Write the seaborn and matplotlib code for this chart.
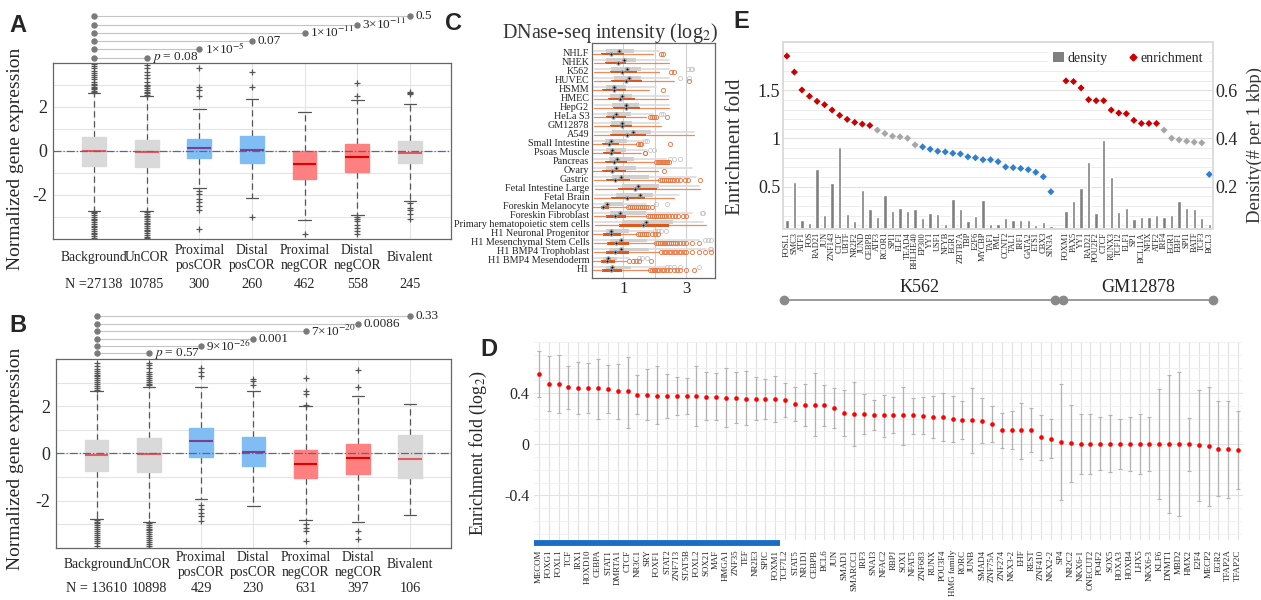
import matplotlib
matplotlib.use("Agg")
import matplotlib.pyplot as plt
import matplotlib.transforms as mtransforms
from matplotlib.lines import Line2D
from matplotlib.patches import Patch
from matplotlib.ticker import MultipleLocator
import numpy as np
import pandas as pd
import seaborn as sns

sns.set_theme(style="white")
plt.rcParams['font.family'] = ['Liberation Serif', 'DejaVu Serif']
plt.rcParams['mathtext.fontset'] = 'stix'

# ---------------- A / B : expression boxplots ----------------
groups = ['Background', 'UnCOR', 'Proximal\nposCOR', 'Distal\nposCOR',
          'Proximal\nnegCOR', 'Distal\nnegCOR', 'Bivalent']
group_kind = ['bg', 'bg', 'pos', 'pos', 'neg', 'neg', 'bg']

a_n = ['N =27138', '10785', '300', '260', '462', '558', '245']
a_med = [0.0, -0.05, 0.14, 0.05, -0.6, -0.26, -0.1]
a_q1 = [-0.68, -0.75, -0.32, -0.57, -1.3, -0.95, -0.57]
a_q3 = [0.62, 0.51, 0.53, 0.68, 0.0, 0.33, 0.47]
a_lo = [-2.72, -2.75, -1.69, -2.16, -3.14, -2.91, -2.28]
a_hi = [2.64, 2.5, 1.9, 2.34, 1.77, 2.32, 2.14]
a_out = [
    [2.68, 2.74, 2.8, 2.86, 2.92, 2.98, 3.05, 3.15, 3.25, 3.35, 3.45, 3.55, 3.65, 3.75, 3.85, 3.95,
     -2.76, -2.84, -2.92, -3.0, -3.08, -3.16, -3.24, -3.32, -3.4, -3.48, -3.56, -3.64, -3.72, -3.8, -3.88, -3.96],
    [2.55, 2.62, 2.7, 2.78, 2.86, 2.94, 3.02, 3.15, 3.3, 3.45, 3.6, 3.75, 3.9,
     -2.78, -2.86, -2.94, -3.02, -3.1, -3.18, -3.26, -3.34, -3.42, -3.5, -3.58, -3.66, -3.74, -3.82, -3.9, -3.98],
    [2.5, 2.75, 2.9, 3.75, -1.81, -1.96, -2.19, -2.34, -2.49, -2.67, -3.55],
    [2.9, 3.6, -3.0],
    [-3.8],
    [2.5, 3.1, -3.0, -3.08, -3.2, -3.35, -3.5, -3.65, -3.8],
    [2.6, 2.65, 2.7, -2.35, -2.6, -2.7, -2.85, -3.1],
]
a_p = [r'$p$ = 0.08', r'1×10$^{-5}$', '0.07', r'1×10$^{-11}$', r'3×10$^{-11}$', '0.5']

b_n = ['N = 13610', '10898', '429', '230', '631', '397', '106']
b_med = [-0.06, -0.03, 0.52, 0.07, -0.46, -0.2, -0.25]
b_q1 = [-0.73, -0.77, -0.17, -0.52, -1.05, -0.88, -1.05]
b_q3 = [0.59, 0.64, 1.09, 0.7, 0.14, 0.39, 0.8]
b_lo = [-2.76, -2.9, -1.93, -2.24, -2.8, -2.91, -2.62]
b_hi = [2.66, 2.83, 2.8, 2.66, 1.99, 2.45, 2.1]
b_out = [
    [2.7, 2.78, 2.86, 2.94, 3.02, 3.1, 3.18, 3.26, 3.34, 3.42, 3.5, 3.58, 3.7, 3.85,
     -2.8, -2.88, -2.96, -3.04, -3.12, -3.2, -3.28, -3.36, -3.44, -3.52, -3.6, -3.7, -3.8, -3.9],
    [2.88, 2.96, 3.04, 3.12, 3.2, 3.28, 3.36, 3.45, 3.6, 3.75, 3.85,
     -2.94, -3.02, -3.1, -3.18, -3.26, -3.34, -3.42, -3.5, -3.58, -3.66, -3.74, -3.82, -3.9, -3.98],
    [3.3, 3.45, 3.6, -2.2, -2.35, -2.5, -2.65, -2.85],
    [2.9, 3.05, 3.15],
    [2.05, 2.5, 2.65, 3.2, -3.0, -3.15, -3.3, -3.7],
    [2.8, 3.55, -3.3, -3.6],
    [],
]
b_p = [r'$p$ = 0.57', r'9×10$^{-26}$', '0.001', r'7×10$^{-20}$', '0.0086', '0.33']

# ---------------- C : DNase-seq intensity ----------------
c_cells = ['NHLF', 'NHEK', 'K562', 'HUVEC', 'HSMM', 'HMEC', 'HepG2', 'HeLa S3', 'GM12878', 'A549',
           'Small Intestine', 'Psoas Muscle', 'Pancreas', 'Ovary', 'Gastric', 'Fetal Intestine Large',
           'Fetal Brain', 'Foreskin Melanocyte', 'Foreskin Fibroblast', 'Primary hematopoietic stem cells',
           'H1 Neuronal Progenitor', 'H1 Mesenchymal Stem Cells', 'H1 BMP4 Trophoblast',
           'H1 BMP4 Mesendoderm', 'H1']
c_or_lo = [0.04, 0.05, 0.06, 0.05, 0.04, 0.05, 0.06, 0.05, 0.05, 0.06, 0.04, 0.04, 0.05,
           0.04, 0.05, 0.08, 0.06, 0.03, 0.05, 0.08, 0.04, 0.05, 0.05, 0.03, 0.04]
c_or_q1 = [0.30, 0.40, 0.56, 0.59, 0.32, 0.50, 0.66, 0.45, 0.56, 0.56, 0.32, 0.35, 0.40,
           0.32, 0.43, 0.82, 0.62, 0.27, 0.46, 0.86, 0.35, 0.48, 0.43, 0.29, 0.32]
c_or_med = [0.59, 0.82, 0.94, 1.09, 0.70, 0.88, 1.07, 0.66, 0.94, 1.12, 0.55, 0.61, 0.70,
            0.64, 0.73, 1.36, 1.12, 0.35, 0.72, 1.63, 0.59, 0.75, 0.72, 0.48, 0.59]
c_or_q3 = [1.02, 1.07, 1.42, 1.60, 1.09, 1.36, 1.52, 1.07, 1.26, 1.71, 0.86, 0.91, 1.12,
           1.09, 1.20, 2.06, 1.69, 0.53, 1.07, 2.44, 0.91, 1.18, 1.18, 0.72, 0.96]
c_or_hi = [1.93, 2.44, 2.14, 2.62, 1.82, 2.41, 2.46, 1.71, 2.19, 3.26, 1.39, 1.55, 1.93,
           2.09, 2.14, 3.44, 2.62, 1.12, 1.76, 3.64, 1.44, 2.03, 2.14, 1.07, 1.82]
c_or_out = [
    [2.19, 2.25], [], [2.53, 2.6], [3.08], [2.26], [], [], [1.84, 1.9, 1.97, 2.03, 2.39], [], [],
    [1.48, 1.52, 1.55, 2.48], [1.68, 1.7],
    [2.03, 2.1, 2.15, 2.2, 2.25, 2.3, 2.35, 2.4, 2.46],
    [2.28],
    [2.18, 2.24, 2.3, 2.36, 2.42, 2.48, 2.55, 2.62, 2.7, 2.8, 2.95, 3.05, 3.45],
    [], [],
    [1.15, 1.22, 1.28, 1.34, 1.4, 1.46, 1.52, 1.58, 1.65, 1.72, 1.8, 1.92],
    [1.8, 1.86, 1.92, 1.98, 2.04, 2.1, 2.16, 2.22, 2.28, 2.35, 2.45, 2.55, 2.65, 2.75, 2.9, 3.0],
    [],
    [1.48, 1.54, 1.6, 1.66, 1.72, 1.8, 1.9, 2.0, 2.1],
    [2.05, 2.1, 2.16, 2.22, 2.28, 2.34, 2.4, 2.46, 2.52, 2.58, 2.65, 2.72, 2.8, 2.9, 3.0, 3.2, 3.42],
    [2.2, 2.28, 2.36, 2.44, 2.52, 2.6, 2.68, 2.76, 2.84, 2.92, 3.0, 3.2, 3.4, 3.6, 3.8],
    [1.18, 1.3, 1.4, 1.5, 1.87],
    [1.84, 1.9, 1.96, 2.02, 2.08, 2.15, 2.22, 2.3, 2.4, 2.5, 2.6, 2.7, 2.8, 3.0, 3.26],
]
c_gr_lo = [0.06, 0.07, 0.08, 0.07, 0.06, 0.07, 0.08, 0.06, 0.07, 0.08, 0.05, 0.06, 0.07,
           0.06, 0.07, 0.1, 0.08, 0.05, 0.07, 0.1, 0.06, 0.07, 0.07, 0.05, 0.06]
c_gr_q1 = [0.43, 0.43, 0.62, 0.70, 0.43, 0.57, 0.64, 0.48, 0.61, 0.64, 0.40, 0.43, 0.53,
           0.43, 0.64, 0.96, 0.77, 0.37, 0.56, 0.96, 0.43, 0.57, 0.53, 0.35, 0.43]
c_gr_med = [0.86, 1.03, 1.12, 1.18, 0.70, 0.94, 1.07, 0.75, 0.96, 1.30, 0.59, 0.64, 0.80,
            0.75, 0.91, 1.47, 1.53, 0.48, 0.89, 1.71, 0.62, 0.91, 0.91, 0.51, 0.64]
c_gr_q3 = [1.34, 1.39, 1.55, 1.55, 1.07, 1.28, 1.50, 1.23, 1.28, 1.87, 1.12, 1.07, 1.34,
           1.39, 1.82, 2.14, 1.93, 1.02, 1.71, 2.57, 1.18, 1.76, 1.82, 0.80, 1.23]
c_gr_hi = [2.14, 2.46, 2.46, 2.46, 2.03, 2.46, 2.46, 1.93, 2.14, 3.26, 1.66, 1.76, 2.35,
           3.20, 3.30, 3.42, 2.78, 1.71, 3.20, 3.53, 1.93, 3.42, 3.64, 1.18, 2.35]
c_gr_out = [
    [], [], [3.05, 3.15, 3.2], [2.8, 3.1], [], [], [], [2.2, 2.25], [], [],
    [1.7, 1.75], [1.84, 1.97], [2.5, 2.6, 2.8], [], [], [], [], [2.03, 2.4], [3.5, 3.55], [],
    [2.0, 2.1, 2.2, 2.35], [3.6, 3.7, 3.8], [3.75, 3.8], [1.5, 1.6, 1.75], [2.4, 2.5, 2.6, 2.8, 3.4],
]

# ---------------- D : enrichment per TF ----------------
d_tf = ['MECOM', 'FOXG1', 'FOXL1', 'TCF', 'IRX1', 'HOXD10', 'CEBPA', 'STAT1', 'DMRTA1', 'CTCF',
        'NR3C1', 'SRY', 'FOXF1', 'STAT2', 'ZNF713', 'STAT5B', 'FOXL2', 'SOX21', 'MAF', 'HMGA1',
        'ZNF35', 'TEF', 'NR2E3', 'SPIC', 'FOXM1', 'TCF7L2', 'STAT5', 'NR1D1', 'CEBPB', 'BCL6',
        'JUN', 'SMAD1', 'SMARCC1', 'IRF3', 'SNAI3', 'NFAC2', 'RBPJ', 'SOX1', 'NFAT5', 'ZNF683',
        'RUNX', 'POU3F4', 'HMG family', 'RORC', 'JUNB', 'SMAD4', 'ZNF75A', 'ZNF274', 'NKX3-2', 'EHF',
        'REST', 'ZNF410', 'NKX2-2', 'SP4', 'NR2C2', 'NKX6-1', 'ONECUT2', 'PO4F2', 'SOX5', 'HOXA3',
        'HOXB4', 'LHX5', 'NKX6-3', 'KLF6', 'DNMT1', 'MBD2', 'HMX2', 'E2F4', 'MECP2', 'EGR2',
        'TFAP2A', 'TFAP2C']
d_val = [0.55, 0.475, 0.47, 0.446, 0.44, 0.436, 0.436, 0.43, 0.413, 0.413,
         0.387, 0.385, 0.38, 0.38, 0.38, 0.377, 0.377, 0.37, 0.366, 0.36,
         0.358, 0.356, 0.352, 0.35, 0.35, 0.348, 0.315, 0.31, 0.31, 0.305,
         0.284, 0.245, 0.237, 0.237, 0.225, 0.225, 0.225, 0.225, 0.225, 0.22,
         0.21, 0.21, 0.2, 0.186, 0.186, 0.18, 0.157, 0.11, 0.11, 0.108,
         0.11, 0.057, 0.041, 0.018, 0.01, 0.0, 0.0, 0.0, 0.0, 0.0,
         0.0, 0.0, 0.0, 0.0, 0.0, 0.0, 0.0, -0.008, -0.018, -0.034,
         -0.041, -0.049]
d_hi = [0.728, 0.694, 0.697, 0.614, 0.645, 0.632, 0.668, 0.617, 0.624, 0.686,
        0.54, 0.586, 0.609, 0.55, 0.524, 0.519, 0.614, 0.565, 0.557, 0.594,
        0.565, 0.573, 0.524, 0.508, 0.53, 0.48, 0.446, 0.475, 0.557, 0.467,
        0.439, 0.428, 0.488, 0.392, 0.348, 0.387, 0.366, 0.446, 0.364, 0.369,
        0.377, 0.397, 0.377, 0.338, 0.44, 0.359, 0.302, 0.248, 0.263, 0.322,
        0.284, 0.23, 0.199, 0.475, 0.307, 0.237, 0.237, 0.209, 0.225, 0.201,
        0.214, 0.237, 0.214, 0.434, 0.544, 0.568, 0.206, 0.428, 0.444, 0.338,
        0.341, 0.261]
d_lo = [0.366, 0.258, 0.245, 0.279, 0.237, 0.245, 0.2, 0.245, 0.2, 0.13,
        0.24, 0.186, 0.16, 0.206, 0.23, 0.24, 0.139, 0.186, 0.186, 0.137,
        0.165, 0.15, 0.188, 0.2, 0.17, 0.214, 0.183, 0.145, 0.065, 0.14,
        0.126, 0.065, -0.013, 0.08, 0.108, 0.06, 0.085, -0.003, 0.08, 0.077,
        0.046, 0.026, 0.02, 0.039, -0.072, 0.008, 0.018, -0.026, -0.041, -0.114,
        -0.06, -0.126, -0.11, -0.436, -0.294, -0.232, -0.232, -0.204, -0.219, -0.196,
        -0.209, -0.235, -0.209, -0.428, -0.537, -0.56, -0.206, -0.441, -0.483, -0.403,
        -0.421, -0.351]
d_marked = 25  # first TFs underlined by the blue bar (MECOM ... FOXM1)

# ---------------- E : K562 / GM12878 enrichment and density ----------------
e_cell = ['K562'] * 36 + ['GM12878'] * 20
e_tf = ['FOSL1', 'SMC3', 'ATF1', 'FOS', 'RAD21', 'JUN', 'ZNF143', 'CTCF', 'UBTF', 'NR2F2',
        'JUND', 'CEBPB', 'ATF3', 'RCOR1', 'SPI1', 'ELF1', 'TEAD4', 'BHLHE40', 'EP300', 'YY1',
        'USF1', 'NFYB', 'EGR1', 'ZBTB7A', 'TBP', 'E2F6', 'MYCBP', 'TAF1', 'PML', 'CCNT2',
        'TAL1', 'IRF1', 'GATA2', 'ETS1', 'CBX3', 'SIN3A',
        'FOXM1', 'PAX5', 'YY1', 'RAD21', 'POU2F2', 'CTCF', 'RUNX3', 'TCF12', 'ELF1', 'SP1',
        'BCL11A', 'NFIX', 'ATF2', 'IRF4', 'EGR1', 'EBF1', 'SPI1', 'BATF', 'TCF3', 'BCL3']
e_enrich = [1.854, 1.688, 1.503, 1.438, 1.385, 1.35, 1.295, 1.24, 1.198, 1.167,
            1.149, 1.135, 1.087, 1.052, 1.024, 1.017, 1.003, 0.934, 0.913, 0.889,
            0.868, 0.861, 0.847, 0.84, 0.81, 0.80, 0.78, 0.78, 0.76, 0.705,
            0.698, 0.69, 0.677, 0.65, 0.604, 0.448,
            1.597, 1.59, 1.524, 1.403, 1.392, 1.392, 1.295, 1.264, 1.257, 1.188,
            1.156, 1.156, 1.156, 1.087, 1.003, 0.986, 0.972, 0.962, 0.955, 0.628]
e_density = [0.064, 0.221, 0.061, 0.051, 0.272, 0.082, 0.214, 0.365, 0.085, 0.056,
             0.188, 0.106, 0.076, 0.164, 0.1, 0.113, 0.1, 0.106, 0.071, 0.09,
             0.085, 0.047, 0.149, 0.108, 0.056, 0.079, 0.144, 0.047, 0.044, 0.071,
             0.061, 0.061, 0.061, 0.043, 0.054, 0.039,
             0.099, 0.14, 0.193, 0.304, 0.09, 0.394, 0.242, 0.094, 0.111, 0.068,
             0.074, 0.074, 0.082, 0.076, 0.082, 0.14, 0.111, 0.106, 0.071, 0.046]
e_sig = ['up'] * 12 + ['ns'] * 6 + ['down'] * 18 + ['up'] * 13 + ['ns'] * 6 + ['down']

box_face = {'bg': '#d9d9d9', 'pos': '#80bdf5', 'neg': '#ff8080'}
median_col = {'bg': '#e8585e', 'pos': '#7d3f90', 'neg': '#e00000'}
e_pal = {'up': '#cc0000', 'ns': '#a6a6a6', 'down': '#2f7fd0'}


def draw_expression(ax, n_labels, med, q1, q3, lo, hi, outs, pvals, lvl_step, cat_y, n_y, lab_xy):
    stats = [dict(med=med[i], q1=q1[i], q3=q3[i], whislo=lo[i], whishi=hi[i], fliers=outs[i])
             for i in range(len(groups))]
    art = ax.bxp(stats, positions=range(len(groups)), widths=0.45, capwidths=0.24,
                 patch_artist=True, manage_ticks=False,
                 whiskerprops=dict(color='#555555', linestyle=(0, (5, 3)), linewidth=0.9),
                 capprops=dict(color='#555555', linewidth=0.9),
                 flierprops=dict(marker='+', markeredgecolor='#555555', markersize=5,
                                 markeredgewidth=0.9),
                 medianprops=dict(linewidth=1.5))
    for box, mline, kind in zip(art['boxes'], art['medians'], group_kind):
        box.set_facecolor(box_face[kind])
        box.set_edgecolor(box_face[kind])
        box.set_zorder(3)
        mline.set_color(median_col[kind])
        mline.set_zorder(4)
    ax.axhline(0, color='#5a6a80', ls='-.', lw=0.9, zorder=5)
    ax.set_xlim(-0.78, 6.78)
    ax.set_ylim(-4, 4)
    ax.set_xticks(range(len(groups)))
    ax.set_xticklabels([])
    ax.set_yticks([-3, -2, -1, 0, 1, 2, 3], ['', '-2', '', '0', '', '2', ''], fontsize=13)
    ax.tick_params(length=0, pad=4)
    ax.grid(True, color='#e4e4e4', lw=0.8)
    ax.set_axisbelow(True)
    for s in ax.spines.values():
        s.set_color('#666666')
        s.set_linewidth(0.9)
    ax.set_ylabel('Normalized gene expression', fontsize=14)
    ax.yaxis.set_label_coords(*lab_xy)

    trans = mtransforms.blended_transform_factory(ax.transData, ax.transAxes)
    for i, g in enumerate(groups):
        ax.text(i, cat_y, g, transform=trans, ha='center', va='center', fontsize=9.8,
                linespacing=1.15)
        ax.text(i, n_y, n_labels[i], transform=trans, ha='center', va='center', fontsize=10.3)
    for k, p in enumerate(pvals):
        y = 1.03 + lvl_step * k
        gx = k + 1
        ax.plot([0, gx], [y, y], color='#c4c4c4', lw=0.8, transform=trans, clip_on=False)
        ax.plot([0, gx], [y, y], 'o', color='#7a7a7a', ms=3.6, transform=trans, clip_on=False)
        ax.text(gx + 0.1, y, p, transform=trans, ha='left', va='center', fontsize=9.5)


fig = plt.figure(figsize=(12.61, 6.0), dpi=100)

ax_a = fig.add_axes([0.042, 0.602, 0.3156, 0.293])
draw_expression(ax_a, a_n, a_med, a_q1, a_q3, a_lo, a_hi, a_out, a_p, 0.047, -0.108, -0.26,
                (-0.072, 0.455))

ax_b = fig.add_axes([0.0444, 0.0867, 0.3132, 0.315])
draw_expression(ax_b, b_n, b_med, b_q1, b_q3, b_lo, b_hi, b_out, b_p, 0.039, -0.09, -0.215,
                (-0.082, 0.47))

# ---------------- C ----------------
ax_c = fig.add_axes([0.4695, 0.5367, 0.0975, 0.392])
rows = np.arange(len(c_cells))
gr_stats = [dict(med=c_gr_med[i], q1=c_gr_q1[i], q3=c_gr_q3[i], whislo=c_gr_lo[i],
                 whishi=c_gr_hi[i], fliers=c_gr_out[i]) for i in rows]
or_stats = [dict(med=c_or_med[i], q1=c_or_q1[i], q3=c_or_q3[i], whislo=c_or_lo[i],
                 whishi=c_or_hi[i], fliers=c_or_out[i]) for i in rows]
common = dict(patch_artist=True, manage_ticks=False, showcaps=False,
              orientation='horizontal')
ax_c.bxp(gr_stats, positions=rows - 0.17, widths=0.42,
         boxprops=dict(facecolor='#cfcfcf', edgecolor='none'),
         whiskerprops=dict(color='#dcdcdc', linewidth=1.2),
         medianprops=dict(linewidth=0),
         flierprops=dict(marker='o', markerfacecolor='none', markeredgecolor='#c8c8c8',
                         markersize=3, markeredgewidth=0.6), **common)
ax_c.bxp(or_stats, positions=rows + 0.14, widths=0.3,
         boxprops=dict(facecolor='#e0561c', edgecolor='none'),
         whiskerprops=dict(color='#f08a5c', linewidth=0.9),
         medianprops=dict(linewidth=0),
         flierprops=dict(marker='o', markerfacecolor='none', markeredgecolor='#e8703a',
                         markersize=3, markeredgewidth=0.6), **common)
ax_c.scatter(c_gr_med, rows - 0.17, s=7, facecolor='white', edgecolor='#777777', lw=0.4, zorder=5)
ax_c.scatter(c_gr_med, rows - 0.17, s=0.5, color='black', zorder=6)
ax_c.scatter(c_or_med, rows + 0.14, s=7, facecolor='white', edgecolor='#777777', lw=0.4, zorder=5)
ax_c.scatter(c_or_med, rows + 0.14, s=0.5, color='black', zorder=6)
ax_c.set_xlim(0, 3.92)
ax_c.set_ylim(len(c_cells) - 0.0, -1.1)
ax_c.set_yticks(rows, c_cells, fontsize=7.3)
ax_c.set_xticks([1, 2, 3], ['1', '', '3'], fontsize=12)
ax_c.tick_params(length=0, pad=2)
ax_c.grid(True, axis='x', color='#cfcfcf', lw=0.8)
ax_c.set_axisbelow(True)
for s in ax_c.spines.values():
    s.set_color('#666666')
    s.set_linewidth(0.9)
fig.text(610 / 1261, 1 - 33 / 600, r'DNase-seq intensity (log$_2$)', ha='center', va='center',
         fontsize=14.5, color='#333333')

# ---------------- D ----------------
ax_d = fig.add_axes([0.4235, 0.1, 0.5622, 0.33])
d_pos = np.arange(len(d_tf))
d_val_arr = np.array(d_val)
ax_d.errorbar(d_pos, d_val_arr, yerr=[d_val_arr - np.array(d_lo), np.array(d_hi) - d_val_arr],
              fmt='none', ecolor='#b3b3b3', elinewidth=0.9, capsize=1.5, capthick=0.8, zorder=2)
sns.scatterplot(x=d_pos, y=d_val, color='#ff0000', s=11, linewidth=0, ax=ax_d, zorder=3)
ax_d.set_xlim(-0.5, len(d_tf) - 0.5)
ax_d.set_ylim(-0.75, 0.8)
ax_d.set_xticks(d_pos, d_tf, rotation=90, fontsize=6.4)
ax_d.set_yticks([-0.4, 0, 0.4], ['-0.4', '0', '0.4'], fontsize=11.5)
ax_d.yaxis.set_minor_locator(MultipleLocator(0.1))
ax_d.tick_params(axis='both', which='both', length=0)
ax_d.tick_params(axis='x', pad=7)
ax_d.grid(True, which='major', color='#e2e2e2', lw=0.8)
ax_d.grid(True, which='minor', axis='y', color='#efefef', lw=0.6)
ax_d.set_axisbelow(True)
for s in ax_d.spines.values():
    s.set_visible(False)
ax_d.set_ylabel(r'Enrichment fold (log$_2$)', fontsize=13)
ax_d.yaxis.set_label_coords(-0.063, 0.44)
trans_d = mtransforms.blended_transform_factory(ax_d.transData, ax_d.transAxes)
ax_d.plot([-0.5, d_marked - 0.5], [-0.016, -0.016], color='#1a6cc4', lw=4.2,
          solid_capstyle='butt', transform=trans_d, clip_on=False)

# ---------------- E ----------------
gap = [0 if c == 'K562' else 1 for c in e_cell]
df_e = pd.DataFrame({'cell': e_cell, 'tf': e_tf, 'enrich': e_enrich,
                     'density': e_density, 'sig': e_sig})
df_e['pos'] = np.arange(len(df_e)) + np.array(gap)

ax_e = fig.add_axes([0.621, 0.618, 0.341, 0.312])
ax_e2 = ax_e.twinx()
sns.barplot(data=df_e, x='pos', y='density', native_scale=True, color='#7f7f7f',
            saturation=1, width=0.45, errorbar=None, ax=ax_e2)
sns.scatterplot(data=df_e, x='pos', y='enrich', hue='sig', palette=e_pal, marker='D',
                s=13, linewidth=0, legend=False, ax=ax_e)
ax_e.set_zorder(ax_e2.get_zorder() + 1)
ax_e.patch.set_visible(False)
n_slots = int(df_e['pos'].max()) + 1
ax_e.set_xlim(-0.5, n_slots - 0.5)
ax_e2.set_xlim(-0.5, n_slots - 0.5)
ax_e.set_ylim(0.06, 2.0)
ax_e2.set_ylim(0.024, 0.8)
ax_e.set_yticks([0.5, 1, 1.5], ['0.5', '1', '1.5'], fontsize=13)
ax_e2.set_yticks([0.2, 0.4, 0.6], ['0.2', '0.4', '0.6'], fontsize=13)
ax_e2.yaxis.set_minor_locator(MultipleLocator(0.04))
ax_e.set_xticks(df_e['pos'], df_e['tf'], rotation=90, fontsize=6)
ax_e2.set_xticks(np.arange(n_slots) - 0.5, minor=True)
ax_e.tick_params(axis='both', length=0, pad=2)
ax_e2.tick_params(axis='both', which='both', length=0, pad=2)
ax_e2.grid(True, which='minor', color='#ececec', lw=0.7)
ax_e2.grid(True, which='major', axis='y', color='#e0e0e0', lw=0.8)
ax_e2.set_axisbelow(True)
for a in (ax_e, ax_e2):
    for s in a.spines.values():
        s.set_color('#dcdcdc')
ax_e.set_xlabel('')
ax_e2.set_xlabel('')
ax_e.set_ylabel('Enrichment fold', fontsize=15, color='#333333')
ax_e.yaxis.set_label_coords(-0.088, 0.44)
ax_e2.set_ylabel('Density(# per 1 kbp)', fontsize=13.5, color='#333333')
ax_e2.yaxis.set_label_coords(1.077, 0.45)
handles = [Patch(facecolor='#7f7f7f', edgecolor='none', label='density'),
           Line2D([], [], marker='D', ls='none', color='#cc0000', markersize=3.5, label='enrichment')]
ax_e.legend(handles=handles, loc='upper right', ncol=2, fontsize=10, frameon=True,
            facecolor='white', edgecolor='none', framealpha=1, handlelength=0.8,
            handletextpad=0.2, columnspacing=1.4, borderaxespad=0.3)

trans_e = mtransforms.blended_transform_factory(ax_e.transData, ax_e.transAxes)
for cell in ['K562', 'GM12878']:
    p = df_e.loc[df_e['cell'] == cell, 'pos']
    x0, x1 = p.min() - 0.4, p.max() + 0.5
    ax_e.plot([x0, x1], [-0.38, -0.38], color='#8a8a8a', lw=1.2, transform=trans_e, clip_on=False)
    ax_e.plot([x0, x1], [-0.38, -0.38], 'o', color='#8a8a8a', ms=6, transform=trans_e, clip_on=False)
    ax_e.text((x0 + x1) / 2, -0.355, cell, transform=trans_e, ha='center', va='bottom',
              fontsize=13, color='#222222')

# panel letters
for letter, x, y in [('A', 18, 25), ('B', 18, 326), ('C', 453, 23), ('D', 489, 350), ('E', 741, 21)]:
    fig.text(x / 1261, 1 - y / 600, letter, fontsize=17, fontweight='bold',
             family='Liberation Sans', ha='center', va='center')

fig.savefig('out.png', dpi=100)
